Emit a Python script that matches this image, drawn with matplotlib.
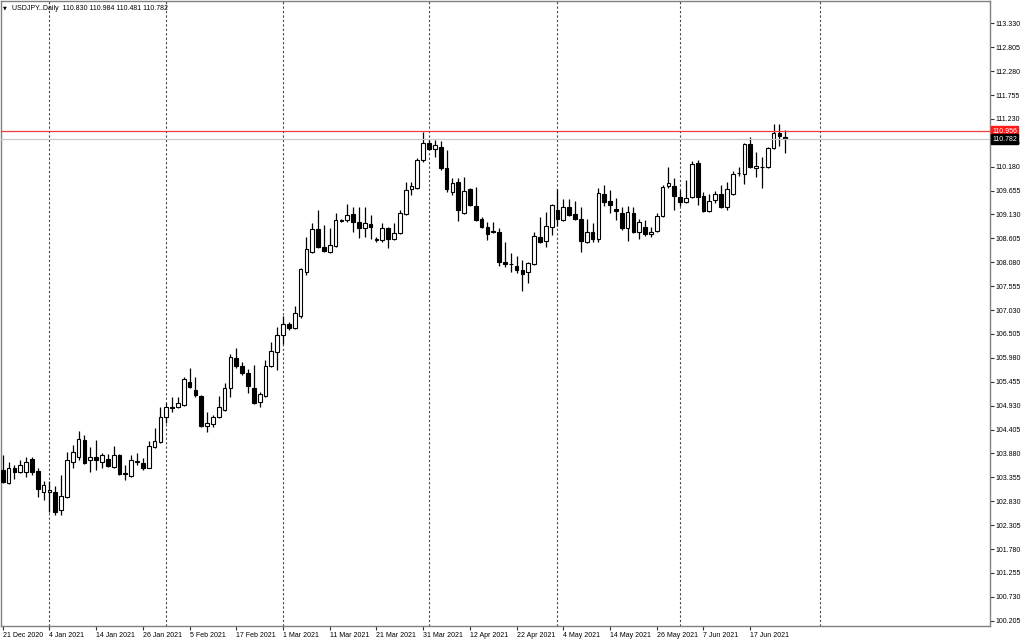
import matplotlib
matplotlib.use('Agg')
import matplotlib.pyplot as plt
import matplotlib.transforms as mtransforms

# USDJPY daily bars (21 Dec 2020 .. 23 Jun 2021)
opens = [103.517, 103.231, 103.561, 103.473, 103.473, 103.759, 103.495, 103.033, 103.033, 103.033,
         102.638, 102.924, 103.693, 103.803, 104.176, 103.737, 103.803, 103.693, 103.759, 103.583,
         103.846, 103.451, 103.385, 103.693, 103.671, 103.561, 104.022, 104.132, 104.681, 104.879,
         104.901, 104.945, 105.450, 105.274, 105.143, 104.484, 104.527, 104.681, 104.835, 105.318,
         105.977, 105.802, 105.648, 105.318, 105.011, 105.143, 105.802, 106.109, 106.483, 106.724,
         106.637, 106.900, 107.867, 108.306, 108.811, 108.416, 108.306, 108.438, 108.987, 109.009,
         109.141, 108.965, 108.833, 108.921, 108.570, 108.570, 108.833, 108.592, 108.723, 109.141,
         109.690, 109.712, 110.327, 110.701, 110.569, 110.613, 110.152, 109.624, 109.844, 109.163,
         109.690, 109.317, 109.031, 108.855, 108.767, 108.745, 108.086, 108.042, 107.998, 107.911,
         107.867, 108.042, 108.635, 108.548, 108.855, 109.229, 109.009, 109.295, 109.141, 109.031,
         108.526, 108.745, 108.592, 109.580, 109.427, 109.251, 109.163, 108.833, 109.163, 108.745,
         108.855, 108.701, 108.767, 109.097, 109.756, 109.756, 109.515, 109.405, 109.515, 110.261,
         109.537, 109.207, 109.449, 109.580, 109.295, 109.580, 110.042, 110.020, 110.679, 110.152,
         110.174, 110.174, 110.591, 110.920, 110.830]
highs = [103.846, 103.693, 103.627, 103.737, 103.803, 103.803, 103.561, 103.275, 103.275, 103.165,
         103.407, 103.912, 104.066, 104.374, 104.286, 104.022, 104.176, 103.890, 103.868, 104.044,
         103.860, 103.627, 103.846, 103.890, 103.781, 104.154, 104.440, 104.901, 104.989, 105.120,
         105.120, 105.560, 105.758, 105.560, 105.165, 104.791, 104.725, 105.143, 105.428, 106.065,
         106.197, 105.890, 105.736, 105.824, 105.230, 105.933, 106.329, 106.659, 106.900, 106.768,
         107.120, 107.955, 108.635, 108.943, 109.229, 108.899, 108.833, 109.163, 109.031, 109.361,
         109.295, 109.295, 109.295, 109.119, 108.635, 108.943, 108.855, 108.943, 109.229, 109.844,
         109.844, 110.371, 110.953, 110.767, 110.767, 110.745, 110.547, 109.932, 109.932, 109.954,
         109.712, 109.734, 109.075, 108.965, 108.965, 108.833, 108.526, 108.284, 108.218, 108.130,
         108.086, 108.745, 109.075, 109.185, 109.350, 109.690, 109.471, 109.471, 109.427, 109.295,
         109.031, 108.943, 109.712, 109.778, 109.668, 109.493, 109.295, 109.317, 109.295, 109.031,
         109.009, 108.855, 109.163, 109.778, 110.174, 109.932, 109.668, 109.888, 110.305, 110.327,
         109.624, 109.580, 109.646, 109.778, 109.844, 110.086, 110.174, 110.701, 110.833, 110.503,
         110.393, 110.613, 111.118, 111.118, 110.984]
lows = [103.231, 103.209, 103.319, 103.451, 103.363, 103.407, 102.924, 102.858, 102.594, 102.528,
        102.528, 102.902, 103.561, 103.737, 103.650, 103.473, 103.517, 103.561, 103.583, 103.570,
        103.407, 103.297, 103.363, 103.627, 103.517, 103.550, 104.000, 104.110, 104.549, 104.791,
        104.879, 104.923, 105.318, 105.120, 104.462, 104.352, 104.462, 104.659, 104.813, 105.120,
        105.758, 105.604, 105.208, 104.967, 104.901, 105.120, 105.780, 105.714, 106.285, 106.593,
        106.615, 106.856, 107.801, 108.284, 108.394, 108.306, 108.290, 108.416, 108.965, 108.965,
        108.745, 108.614, 108.635, 108.592, 108.526, 108.526, 108.394, 108.570, 108.701, 109.119,
        109.559, 109.690, 110.283, 110.547, 110.393, 110.108, 109.624, 109.559, 108.987, 109.150,
        109.317, 108.987, 108.833, 108.570, 108.723, 107.998, 107.976, 107.867, 107.845, 107.449,
        107.625, 108.020, 108.504, 108.416, 108.679, 108.877, 108.987, 109.097, 109.009, 108.306,
        108.504, 108.526, 108.526, 109.317, 109.163, 109.009, 108.789, 108.548, 108.723, 108.592,
        108.658, 108.635, 108.745, 109.075, 109.712, 109.229, 109.317, 109.383, 109.493, 109.339,
        109.185, 109.185, 109.383, 109.273, 109.229, 109.559, 109.976, 109.800, 110.152, 109.954,
        109.712, 110.160, 110.569, 110.635, 110.481]
closes = [103.253, 103.561, 103.473, 103.627, 103.693, 103.473, 103.099, 103.187, 103.077, 102.594,
          102.945, 103.737, 103.912, 104.198, 103.671, 103.803, 103.737, 103.846, 103.605, 103.846,
          103.429, 103.429, 103.737, 103.715, 103.561, 104.044, 104.154, 104.681, 104.901, 104.901,
          104.989, 105.516, 105.340, 105.165, 104.484, 104.549, 104.681, 104.901, 105.318, 106.000,
          105.802, 105.648, 105.362, 104.989, 105.186, 105.802, 106.131, 106.483, 106.724, 106.637,
          106.966, 107.933, 108.372, 108.811, 108.416, 108.328, 108.460, 109.009, 109.009, 109.119,
          108.965, 108.833, 108.943, 108.855, 108.592, 108.833, 108.592, 108.723, 109.163, 109.668,
          109.756, 110.327, 110.701, 110.569, 110.657, 110.152, 109.690, 109.822, 109.229, 109.646,
          109.339, 109.009, 108.855, 108.701, 108.745, 108.086, 108.042, 108.050, 107.911, 107.823,
          108.064, 108.658, 108.526, 108.877, 109.339, 109.031, 109.295, 109.119, 109.031, 108.548,
          108.745, 108.592, 109.602, 109.405, 109.339, 109.207, 108.833, 109.185, 108.745, 108.965,
          108.701, 108.745, 109.097, 109.734, 109.822, 109.537, 109.405, 109.493, 110.239, 109.515,
          109.207, 109.427, 109.580, 109.295, 109.690, 110.020, 110.050, 110.679, 110.174, 110.196,
          110.180, 110.591, 110.920, 110.854, 110.782]

# date labels, one every 8 bars
date_labels = ['21 Dec 2020', '4 Jan 2021', '14 Jan 2021', '26 Jan 2021', '5 Feb 2021',
               '17 Feb 2021', '1 Mar 2021', '11 Mar 2021', '21 Mar 2021', '31 Mar 2021',
               '12 Apr 2021', '22 Apr 2021', '4 May 2021', '14 May 2021', '26 May 2021',
               '7 Jun 2021', '17 Jun 2021']
date_bars = [0, 8, 16, 24, 32, 40, 48, 56, 64, 72, 80, 88, 96, 104, 112, 120, 128]
# month separators (bar index of first bar of month)
month_bars = [8, 28, 48, 73, 95, 116, 140]

price_labels = ['113.330', '112.805', '112.280', '111.755', '111.230', '110.705', '110.180',
                '109.655', '109.130', '108.605', '108.080', '107.555', '107.030', '106.505',
                '105.980', '105.455', '104.930', '104.405', '103.880', '103.355', '102.830',
                '102.305', '101.780', '101.255', '100.730', '100.205']

ask = 110.956
bid = 110.782
title = 'USDJPY..Daily  110.830 110.984 110.481 110.782'

plt.rcParams['font.family'] = ['Liberation Sans', 'DejaVu Sans']
fs = 5.0

fig = plt.figure(figsize=(10.24, 6.41), dpi=100)
ax = fig.add_axes([1/1024, 1 - 626/641, 989/1024, 625/641])

x = list(range(len(opens)))
up = [c >= o for o, c in zip(opens, closes)]

# wicks
ax.vlines(x, lows, highs, color='black', lw=0.9, zorder=2)
# bodies
bottoms = [min(o, c) for o, c in zip(opens, closes)]
heights = [abs(c - o) for o, c in zip(opens, closes)]
ax.bar(x, heights, bottom=bottoms, width=0.64,
       color=['white' if u else 'black' for u in up],
       edgecolor='black', linewidth=0.8, zorder=3)

# month separators
for m in month_bars:
    ax.axvline(m, color='#444444', lw=0.8, linestyle=(0, (2, 2)), zorder=1)

# bid / ask lines
ax.axhline(ask, color='#ee3b3b', lw=0.9, zorder=4)
ax.axhline(bid, color='#c8c8c8', lw=0.9, zorder=4)

ax.set_xlim(-0.29, 169.06)
ax.set_ylim(100.090, 113.820)

ax.set_xticks(date_bars)
ax.set_xticklabels(date_labels, ha='left', fontsize=fs)
ax.yaxis.tick_right()
ax.set_yticks([float(p) for p in price_labels])
ax.set_yticklabels(price_labels, fontsize=fs)
ax.tick_params(axis='x', length=3, width=0.8, pad=1, color='#333333')
ax.tick_params(axis='y', length=3, width=0.8, pad=1, color='#333333')

for s in ax.spines.values():
    s.set_color('#808080')
    s.set_linewidth(1)

# price boxes on the right axis
tr = mtransforms.blended_transform_factory(ax.transAxes, ax.transData)
ax.text(1.002, ask, '110.956', transform=tr, fontsize=fs, color='white', va='center', ha='left',
        bbox=dict(boxstyle='square,pad=0.2', fc='#ff1a1a', ec='#ff1a1a'), zorder=10, clip_on=False)
ax.text(1.002, bid, '110.782', transform=tr, fontsize=fs, color='white', va='center', ha='left',
        bbox=dict(boxstyle='square,pad=0.2', fc='black', ec='black'), zorder=10, clip_on=False)

# header
fig.text(3/1024, 1 - 8/641, '\u25bc', fontsize=3.5, va='center', ha='left', family='DejaVu Sans')
fig.text(12/1024, 1 - 8/641, title, fontsize=fs, va='center', ha='left')

fig.savefig('out.png', dpi=100)
